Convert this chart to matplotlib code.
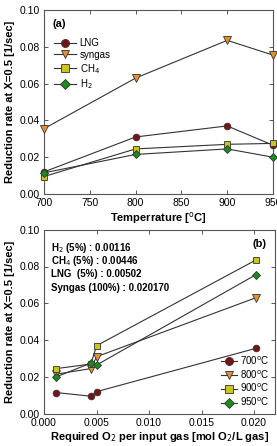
import matplotlib
matplotlib.use("Agg")
import matplotlib.pyplot as plt

plt.rcParams['font.family'] = ['Liberation Sans', 'DejaVu Sans']

temps = [700, 800, 900, 950]
gases = ['LNG', 'syngas', 'CH$_4$', 'H$_2$']
lng = [0.012, 0.031, 0.037, 0.0265]
syngas = [0.0355, 0.063, 0.0835, 0.0755]
ch4 = [0.0095, 0.0245, 0.027, 0.0275]
h2 = [0.0115, 0.0215, 0.0245, 0.020]

# required O2 per input gas, order: H2, CH4, LNG, syngas
o2_req = [0.00116, 0.00446, 0.00502, 0.02017]
temp_labels = ['700$^{\\rm o}$C', '800$^{\\rm o}$C', '900$^{\\rm o}$C', '950$^{\\rm o}$C']
info_lines = ['H$_2$ (5%) : 0.00116', 'CH$_4$ (5%) : 0.00446',
              'LNG  (5%) : 0.00502', 'Syngas (100%) : 0.020170']

colors = ['#7a1212', '#e8902e', '#c9c41e', '#1e8a1e']
markers = ['o', 'v', 's', 'D']
msizes = [4.8, 5.2, 4.4, 4.4]

fig = plt.figure(figsize=(2.77, 4.46), dpi=100)
W, H = 277, 446
ax1 = fig.add_axes([44/W, 1-194/H, 229/W, 184/H])
ax2 = fig.add_axes([44/W, 1-413.7/H, 231/W, 184/H])

series = [lng, syngas, ch4, h2]
for s, lab, c, m, ms in zip(series, gases, colors, markers, msizes):
    ax1.plot(temps, s, color='#333333', lw=0.8, marker=m, ms=ms,
             mfc=c, mec='#333333', mew=0.6, label=lab, clip_on=False, zorder=3)

ax1.set_xlim(700, 950)
ax1.set_ylim(0, 0.10)
ax1.set_xticks([700, 750, 800, 850, 900, 950])
ax1.set_xticklabels(['700', '750', '800', '850', '900', '950'])
ax1.set_yticks([0, 0.02, 0.04, 0.06, 0.08, 0.10])
ax1.set_yticklabels(['0.00', '0.02', '0.04', '0.06', '0.08', '0.10'])
ax1.set_xlabel('Temperrature [$^{\\rm o}$C]', fontsize=8, fontweight='bold', labelpad=1.5)
ax1.set_ylabel('Reduction rate at X=0.5 [1/sec]', fontsize=8, fontweight='bold', labelpad=3)
ax1.text(0.035, 0.95, '(a)', transform=ax1.transAxes, fontsize=8, fontweight='bold', va='top')
ax1.legend(loc='upper left', bbox_to_anchor=(0.02, 0.88), frameon=False, fontsize=7,
           handlelength=2.2, labelspacing=0.2, borderaxespad=0.2, handletextpad=0.4,
           markerscale=1.2)

# bottom: each temperature across gases in order H2, CH4, LNG, syngas
for i in range(4):
    ys = [h2[i], ch4[i], lng[i], syngas[i]]
    ax2.plot(o2_req, ys, color='#333333', lw=0.8, marker=markers[i], ms=msizes[i],
             mfc=colors[i], mec='#333333', mew=0.6, label=temp_labels[i], zorder=3)

ax2.set_xlim(0, 0.022)
ax2.set_ylim(0, 0.10)
ax2.set_xticks([0, 0.005, 0.010, 0.015, 0.020])
ax2.set_xticklabels(['0.000', '0.005', '0.010', '0.015', '0.020'])
ax2.set_yticks([0, 0.02, 0.04, 0.06, 0.08, 0.10])
ax2.set_yticklabels(['0.00', '0.02', '0.04', '0.06', '0.08', '0.10'])
ax2.set_xlabel('Required O$_2$ per input gas [mol O$_2$/L gas]', fontsize=8,
               fontweight='bold', labelpad=1.5)
ax2.set_ylabel('Reduction rate at X=0.5 [1/sec]', fontsize=8, fontweight='bold', labelpad=3)
ax2.text(0.965, 0.95, '(b)', transform=ax2.transAxes, fontsize=8, fontweight='bold',
         va='top', ha='right')
for k, t in enumerate(info_lines):
    ax2.text(0.03, 0.902 - k*0.0725, t, transform=ax2.transAxes, fontsize=7,
             fontweight='bold', va='center')
ax2.legend(loc='lower right', frameon=False, fontsize=7, handlelength=1.7,
           labelspacing=0.15, borderaxespad=0.15, handletextpad=0.3, markerscale=1.2)

for ax in (ax1, ax2):
    for sp in ax.spines.values():
        sp.set_color('#555555')
        sp.set_linewidth(0.8)
    ax.tick_params(direction='in', top=True, right=True, length=3, width=0.7,
                   color='#555555', labelsize=7.5, pad=3)

fig.savefig('out.png', dpi=100)
